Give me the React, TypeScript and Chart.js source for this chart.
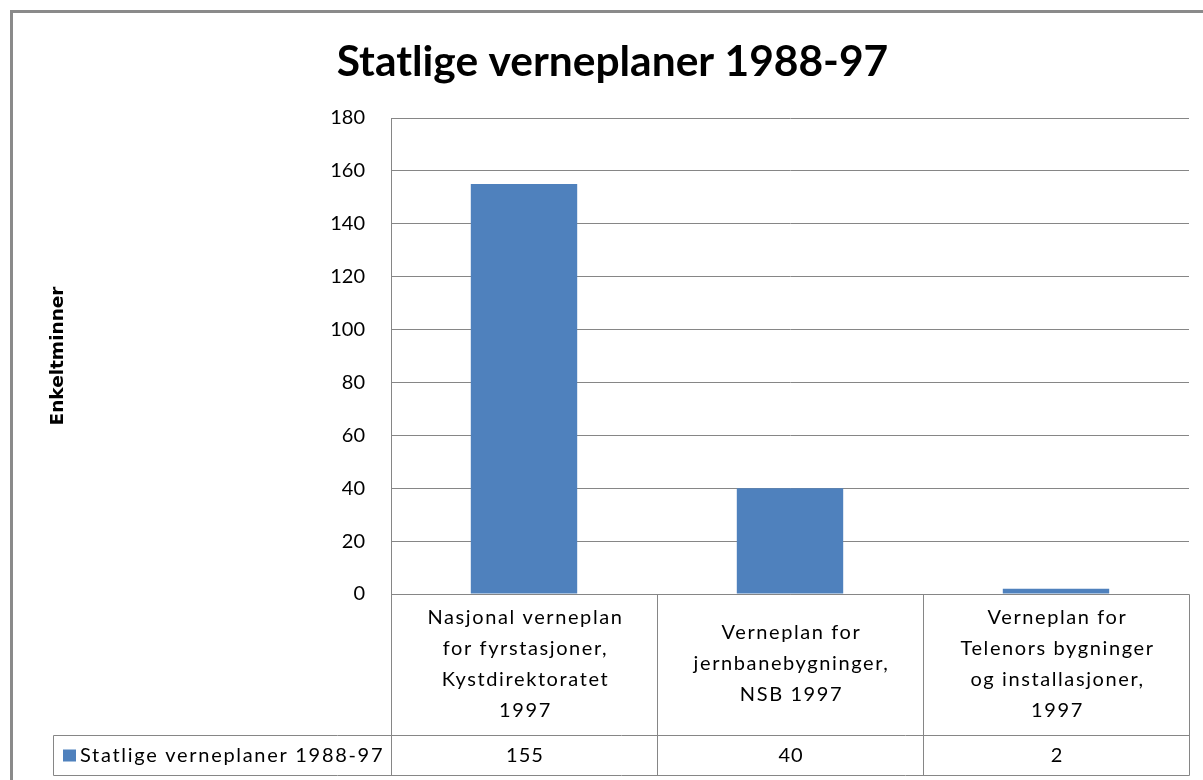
import React, { useEffect, useRef } from 'react';
import { Chart, registerables } from 'chart.js';

Chart.register(...registerables);

const chartTitle = 'Statlige verneplaner 1988-97';
const seriesName = 'Statlige verneplaner 1988-97';
const yAxisTitle = 'Enkeltminner';
const categories: string[][] = [
  ['Nasjonal verneplan', 'for fyrstasjoner,', 'Kystdirektoratet', '1997'],
  ['Verneplan for', 'jernbanebygninger,', 'NSB 1997'],
  ['Verneplan for', 'Telenors bygninger', 'og installasjoner,', '1997'],
];
const values = [155, 40, 2];
const yMin = 0;
const yMax = 180;
const yStep = 20;

const BAR_COLOR = '#4F81BD';
const LINE_COLOR = '#868686';
const FONT = 'Lato';

const tablePlugin = {
  id: 'dataTable',
  beforeDraw(chart: any) {
    const { ctx } = chart;
    ctx.save();
    ctx.strokeStyle = '#8a8a8a';
    ctx.lineWidth = 3;
    ctx.beginPath();
    ctx.moveTo(10, 11.5);
    ctx.lineTo(1203, 11.5);
    ctx.moveTo(11.5, 10);
    ctx.lineTo(11.5, 780);
    ctx.stroke();
    ctx.restore();
  },
  afterDraw(chart: any) {
    const { ctx, chartArea } = chart;
    const x = chart.scales.x;
    const top = Math.round(chartArea.bottom) + 0.5;
    const split = top + 141;
    const bottom = split + 40;
    const left = Math.round(chartArea.left) + 0.5;
    const right = Math.round(chartArea.right) + 0.5;
    const legendLeft = 53.5;
    const bounds: number[] = [left];
    for (let i = 0; i < categories.length - 1; i++) {
      bounds.push(Math.round((x.getPixelForValue(i) + x.getPixelForValue(i + 1)) / 2) + 0.5);
    }
    bounds.push(right);

    ctx.save();
    ctx.strokeStyle = LINE_COLOR;
    ctx.lineWidth = 1;
    ctx.beginPath();
    ctx.moveTo(left, top);
    ctx.lineTo(right, top);
    ctx.moveTo(legendLeft, split);
    ctx.lineTo(right, split);
    ctx.moveTo(legendLeft, bottom);
    ctx.lineTo(right, bottom);
    ctx.moveTo(legendLeft, split);
    ctx.lineTo(legendLeft, bottom);
    bounds.forEach((b) => {
      ctx.moveTo(b, top);
      ctx.lineTo(b, bottom);
    });
    ctx.stroke();

    ctx.fillStyle = '#000';
    ctx.font = `20px ${FONT}`;
    ctx.textAlign = 'center';
    ctx.textBaseline = 'middle';
    (ctx as any).letterSpacing = '1.6px';
    const lh = 31;
    const rowMid = (top + split) / 2 - 1;
    categories.forEach((lines, i) => {
      const cx = (bounds[i] + bounds[i + 1]) / 2 + 1;
      const y0 = rowMid - ((lines.length - 1) * lh) / 2;
      lines.forEach((ln, j) => ctx.fillText(ln, cx, y0 + j * lh));
    });
    const valMid = (split + bottom) / 2;
    (ctx as any).letterSpacing = '1px';
    values.forEach((v, i) => {
      const cx = (bounds[i] + bounds[i + 1]) / 2 + 0.5;
      ctx.fillText(String(v), cx, valMid);
    });
    ctx.fillStyle = BAR_COLOR;
    ctx.fillRect(63, valMid - 6, 13, 12);
    ctx.fillStyle = '#000';
    ctx.textAlign = 'left';
    (ctx as any).letterSpacing = '1.7px';
    ctx.fillText(seriesName, 80, valMid);
    (ctx as any).letterSpacing = '0px';
    ctx.restore();
  },
};

export default function App() {
  const ref = useRef<HTMLCanvasElement>(null);
  useEffect(() => {
    document.body.style.margin = '0';
    const chart = new Chart(ref.current!, {
      type: 'bar',
      data: {
        labels: categories.map((c) => c.join(' ')),
        datasets: [
          {
            label: seriesName,
            data: values,
            backgroundColor: BAR_COLOR,
            borderWidth: 0,
            barPercentage: 0.4,
            categoryPercentage: 1,
          },
        ],
      },
      options: {
        animation: false,
        responsive: false,
        layout: { padding: { left: 36, right: 14, top: 0, bottom: 186 } },
        plugins: {
          legend: { display: false },
          tooltip: { enabled: false },
          title: {
            display: true,
            text: chartTitle,
            color: '#000',
            font: { family: FONT, size: 42.5, weight: 'bold' },
            padding: { top: 37, bottom: 30 },
          },
        },
        scales: {
          x: { display: false },
          y: {
            min: yMin,
            max: yMax,
            ticks: {
              stepSize: yStep,
              color: '#000',
              padding: 26,
              font: { family: FONT, size: 20 },
            },
            grid: { color: LINE_COLOR, drawTicks: false, lineWidth: 1 },
            border: { display: true, color: LINE_COLOR },
            title: {
              display: true,
              text: yAxisTitle,
              color: '#000',
              font: { family: 'DejaVu Sans', size: 18.5, weight: 'bold' },
              padding: { top: 11, bottom: 0 },
            },
            afterFit: (scale: any) => {
              scale.width = 355;
            },
          },
        },
      },
      plugins: [tablePlugin],
    });
    return () => chart.destroy();
  }, []);
  return (
    <div style={{ position: 'fixed', left: 0, top: 0, width: 1203, height: 780, background: '#fff' }}>
      <canvas ref={ref} width={1203} height={780} />
    </div>
  );
}
